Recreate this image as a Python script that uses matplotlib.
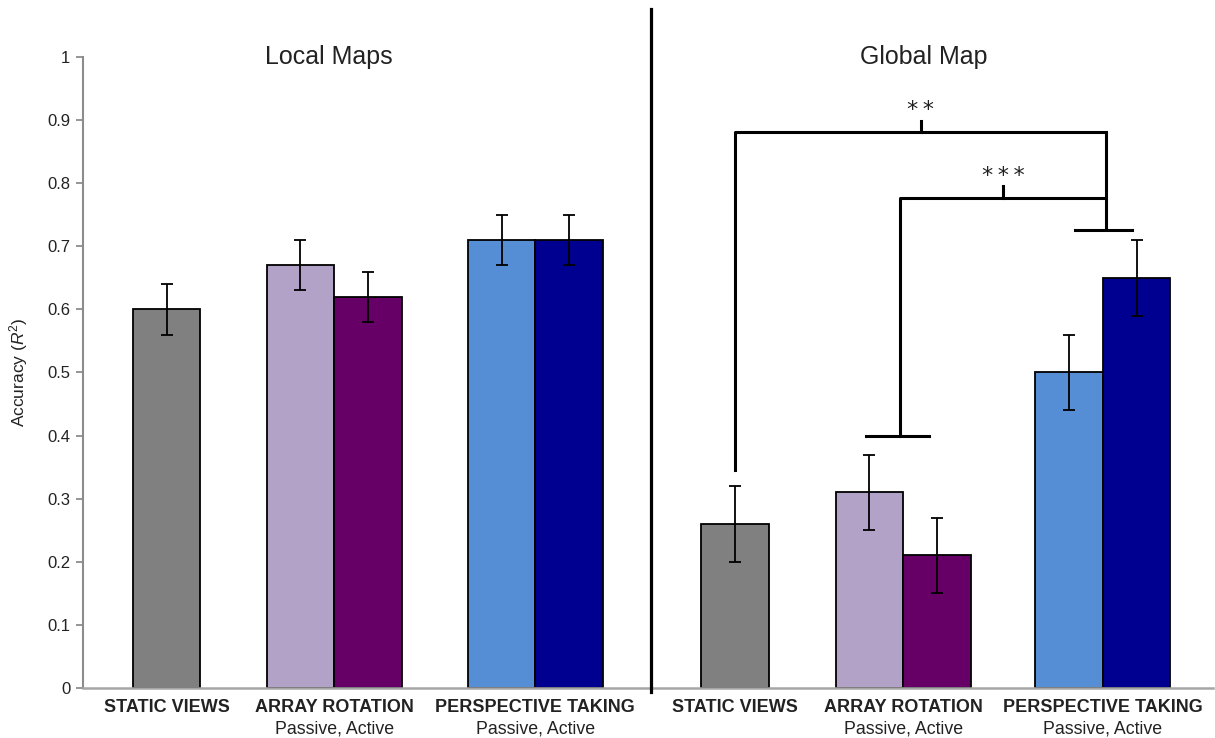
import matplotlib
matplotlib.use("Agg")
import matplotlib.pyplot as plt
import matplotlib.transforms as mtransforms
import numpy as np

plt.rcParams['font.family'] = ['Liberation Sans', 'DejaVu Sans']
plt.rcParams['mathtext.fontset'] = 'custom'
plt.rcParams['mathtext.rm'] = 'Liberation Sans'
plt.rcParams['mathtext.it'] = 'Liberation Sans:italic'

# ---- data ----
panels = ["Local Maps", "Global Map"]
categories = ["STATIC VIEWS", "ARRAY ROTATION", "PERSPECTIVE TAKING"]
sublabels = ["", "Passive, Active", "Passive, Active"]
conditions = ["Static", "Array Passive", "Array Active", "Persp Passive", "Persp Active"]
local_vals = [0.60, 0.67, 0.62, 0.71, 0.71]
local_err = [0.04, 0.04, 0.04, 0.04, 0.04]
global_vals = [0.26, 0.31, 0.21, 0.50, 0.65]
global_err = [0.06, 0.06, 0.06, 0.06, 0.06]
colors = ["#808080", "#b3a2c7", "#660066", "#558ed5", "#000090"]
sig_labels = ["**", "***"]

# ---- layout (bar width = 1 unit) ----
local_centers = [1.24, 3.72, 6.70]
global_centers = [9.66, 12.15, 15.11]
divider_x = 8.41
xmax = 16.74
title_x = [3.64, 12.46]

def bar_positions(centers):
    c0, c1, c2 = centers
    return [c0, c1 - 0.5, c1 + 0.5, c2 - 0.5, c2 + 0.5]

fig = plt.figure(figsize=(12.15, 7.38), dpi=100)
ax = fig.add_axes([83/1215, 50/738, (1213-83)/1215, (688-57)/738])
ax.set_xlim(0, xmax)
ax.set_ylim(0, 1)

for centers, vals, errs in [(local_centers, local_vals, local_err),
                            (global_centers, global_vals, global_err)]:
    xs = bar_positions(centers)
    ax.bar(xs, vals, width=1.0, color=colors, edgecolor='black', linewidth=1.3, zorder=2)
    ax.errorbar(xs, vals, yerr=errs, fmt='none', ecolor='black', elinewidth=1.3,
                capsize=4.5, capthick=1.3, zorder=3)

# axes styling
for s in ['top', 'right']:
    ax.spines[s].set_visible(False)
ax.spines['left'].set_color('#8c8c8c')
ax.spines['bottom'].set_color('#a6a6a6')
ax.spines['left'].set_linewidth(1.5)
ax.spines['bottom'].set_linewidth(1.8)
ax.set_yticks(np.arange(0, 1.01, 0.1))
ax.set_yticklabels(["0", "0.1", "0.2", "0.3", "0.4", "0.5", "0.6", "0.7", "0.8", "0.9", "1"])
ax.tick_params(axis='y', length=5, width=1.3, color='#8c8c8c', labelsize=12, labelcolor='#222222', pad=4)
ax.set_xticks([])
ax.set_ylabel("Accuracy ($R^2$)", fontsize=12.5, color='#222222')
ax.yaxis.set_label_coords(-0.047, 0.5)

# category labels
trans = mtransforms.blended_transform_factory(ax.transData, ax.transAxes)
for centers in [local_centers, global_centers]:
    for c, cat, sub in zip(centers, categories, sublabels):
        ax.text(c, -0.017, cat, transform=trans, ha='center', va='top',
                fontsize=13, fontweight='bold', color='#222222')
        if sub:
            ax.text(c, -0.052, sub, transform=trans, ha='center', va='top',
                    fontsize=12.8, color='#222222')

# panel titles
for tx, title in zip(title_x, panels):
    ax.text(tx, 1.0, title, transform=trans, ha='center', va='center',
            fontsize=18, color='#222222')

# divider
ax.plot([divider_x, divider_x], [-0.006, 1.076], color='black', lw=2.3,
        clip_on=False, zorder=4)

# significance brackets
lw = 2.2
gx = bar_positions(global_centers)
right_x = global_centers[2] + 0.05
t_right_y = 0.726
t_left_y = 0.40
left1_x = gx[0]
left2_x = global_centers[1] - 0.05
y1, y2 = 0.881, 0.777

# T bars
ax.plot([right_x - 0.47, right_x + 0.38], [t_right_y, t_right_y], color='black', lw=lw, clip_on=False)
ax.plot([left2_x - 0.5, left2_x + 0.43], [t_left_y, t_left_y], color='black', lw=lw, clip_on=False)
# right leg
ax.plot([right_x, right_x], [t_right_y, y1], color='black', lw=lw, clip_on=False, solid_capstyle='round')
# ** bracket
ax.plot([left1_x, left1_x, right_x], [0.345, y1, y1], color='black', lw=lw,
        clip_on=False, solid_joinstyle='round')
m1 = (left1_x + right_x) / 2
ax.plot([m1, m1], [y1, y1 + 0.018], color='black', lw=lw, clip_on=False)
ax.text(m1, 0.916, "\u2009".join(sig_labels[0]), ha='center', va='center', fontsize=16,
        family='DejaVu Sans', color='#222222')
# *** bracket
ax.plot([left2_x, left2_x, right_x], [t_left_y, y2, y2], color='black', lw=lw,
        clip_on=False, solid_joinstyle='round')
m2 = (left2_x + right_x) / 2
ax.plot([m2, m2], [y2, y2 + 0.018], color='black', lw=lw, clip_on=False)
ax.text(m2, 0.811, "\u2009".join(sig_labels[1]), ha='center', va='center', fontsize=16,
        family='DejaVu Sans', color='#222222')

fig.savefig("out.png", dpi=100)
